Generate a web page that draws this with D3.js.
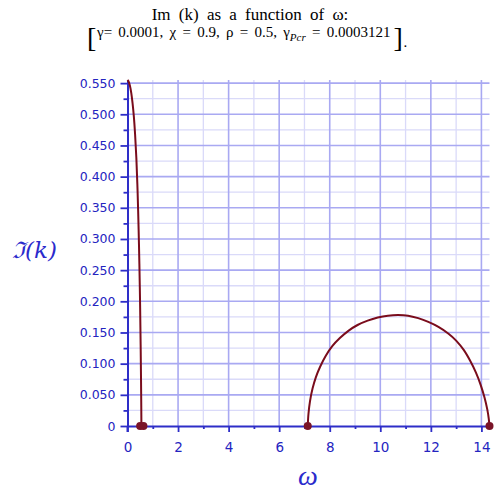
<!DOCTYPE html>
<html><head><meta charset="utf-8">
<script src="https://cdn.jsdelivr.net/npm/d3@7"></script>
<style>body{margin:0;background:#fff}svg{display:block}</style>
</head><body>
<svg id="c" width="500" height="500"></svg>
<script>
// ---- data ----
const branch1Omega = [0, 0.05, 0.10, 0.15, 0.20, 0.25, 0.30, 0.35, 0.40, 0.44, 0.47, 0.50, 0.52, 0.535, 0.545, 0.55];
const branch1Im    = [0.555, 0.552, 0.545, 0.534, 0.518, 0.497, 0.468, 0.43, 0.375, 0.315, 0.26, 0.19, 0.13, 0.075, 0.03, 0];
const branch2Omega = [7.13, 7.16, 7.22, 7.32, 7.45, 7.62, 7.85, 8.1, 8.4, 8.75, 9.1, 9.5, 9.9, 10.3, 10.7, 11.1, 11.5, 11.9, 12.3, 12.7, 13.0, 13.3, 13.55, 13.78, 13.97, 14.12, 14.23, 14.29, 14.32];
const branch2Im    = [0, 0.02, 0.04, 0.06, 0.078, 0.095, 0.113, 0.128, 0.141, 0.153, 0.162, 0.169, 0.174, 0.177, 0.178, 0.177, 0.173, 0.167, 0.159, 0.148, 0.137, 0.122, 0.105, 0.086, 0.066, 0.046, 0.027, 0.012, 0];
const pointOmega = [0.50, 0.63, 7.13, 14.32];
const pointIm    = [0, 0, 0, 0];
const xTickValues = [0, 2, 4, 6, 8, 10, 12, 14];
const xMinorValues = [1, 3, 5, 7, 9, 11, 13];
const yTickValues = [0, 0.05, 0.1, 0.15, 0.2, 0.25, 0.3, 0.35, 0.4, 0.45, 0.5, 0.55];
const yTickLabels = ["0", "0.050", "0.100", "0.150", "0.200", "0.250", "0.300", "0.350", "0.400", "0.450", "0.500", "0.550"];
const yMinorValues = [0.025, 0.075, 0.125, 0.175, 0.225, 0.275, 0.325, 0.375, 0.425, 0.475, 0.525];

const svg = d3.select("#c");
const x = d3.scaleLinear().domain([0, 14.32]).range([127.5, 489.5]);
const y = d3.scaleLinear().domain([0, 0.555]).range([426, 80]);
const axisColor = "#2e2ec8";

// grid
const grid = svg.append("g");
grid.selectAll(".vminor").data(xMinorValues).join("line")
  .attr("x1", d => x(d)).attr("x2", d => x(d)).attr("y1", y(0)).attr("y2", y(0.555))
  .attr("stroke", "#dadaf9").attr("stroke-width", 1.3);
grid.selectAll(".hminor").data(yMinorValues).join("line")
  .attr("y1", d => y(d)).attr("y2", d => y(d)).attr("x1", x(0)).attr("x2", x(14.32))
  .attr("stroke", "#dadaf9").attr("stroke-width", 1.3);
grid.selectAll(".vmajor").data(xTickValues.filter(d => d > 0)).join("line")
  .attr("x1", d => x(d)).attr("x2", d => x(d)).attr("y1", y(0)).attr("y2", y(0.555))
  .attr("stroke", "#a9a9f2").attr("stroke-width", 1.6);
grid.selectAll(".hmajor").data(yTickValues.filter(d => d > 0)).join("line")
  .attr("y1", d => y(d)).attr("y2", d => y(d)).attr("x1", x(0)).attr("x2", x(14.32))
  .attr("stroke", "#a9a9f2").attr("stroke-width", 1.6);

// axes
const xAxis = svg.append("g").attr("transform", `translate(0,${y(0)})`)
  .call(d3.axisBottom(x).tickValues(xTickValues).tickSize(6).tickSizeOuter(0).tickFormat(d3.format("d")));
const xMinor = svg.append("g").attr("transform", `translate(0,${y(0)})`)
  .call(d3.axisBottom(x).tickValues(xMinorValues).tickSize(3).tickSizeOuter(0).tickFormat(""));
const yAxis = svg.append("g").attr("transform", `translate(${x(0)},0)`)
  .call(d3.axisLeft(y).tickValues(yTickValues).tickSize(7).tickSizeOuter(0).tickFormat((d, i) => yTickLabels[i]));
const yMinor = svg.append("g").attr("transform", `translate(${x(0)},0)`)
  .call(d3.axisLeft(y).tickValues(yMinorValues).tickSize(4).tickSizeOuter(0).tickFormat(""));
[xAxis, xMinor, yAxis, yMinor].forEach(g => {
  g.selectAll("path.domain").attr("stroke", axisColor).attr("stroke-width", 2);
  g.selectAll(".tick line").attr("stroke", axisColor).attr("stroke-width", 1.8);
});
xMinor.select("path.domain").remove();
yMinor.select("path.domain").remove();
xAxis.selectAll(".tick text").attr("fill", "#2424c0").attr("font-family", "DejaVu Sans")
  .attr("font-size", 13.5).attr("y", 25.5).attr("dy", 0);
yAxis.selectAll(".tick text").attr("fill", "#2424c0").attr("font-family", "DejaVu Sans")
  .attr("font-size", 12.5).attr("x", -12);
// y axis extends a bit below zero
svg.append("line").attr("x1", x(0)).attr("x2", x(0)).attr("y1", y(0)).attr("y2", y(0) + 6)
  .attr("stroke", axisColor).attr("stroke-width", 2);

// curves
const line = d3.line().x(d => x(d[0])).y(d => y(d[1])).curve(d3.curveCatmullRom.alpha(0.5));
const curveColor = "#7a0c1c";
svg.append("path").datum(branch1Omega.map((w, i) => [w, branch1Im[i]]))
  .attr("d", line).attr("fill", "none").attr("stroke", curveColor).attr("stroke-width", 2);
svg.append("path").datum(branch2Omega.map((w, i) => [w, branch2Im[i]]))
  .attr("d", line).attr("fill", "none").attr("stroke", curveColor).attr("stroke-width", 2);
svg.selectAll(".pt").data(pointOmega.map((w, i) => [w, pointIm[i]])).join("circle")
  .attr("cx", d => x(d[0])).attr("cy", d => y(d[1])).attr("r", 4).attr("fill", "#7a1428");

// axis titles
svg.append("text").attr("x", 12).attr("y", 258).attr("fill", "#2a2acc")
  .attr("font-family", "DejaVu Serif").attr("font-style", "italic").attr("font-size", 23)
  .text("ℑ(k)");
svg.append("text").attr("x", 308).attr("y", 485).attr("text-anchor", "middle").attr("fill", "#2a2acc")
  .attr("font-family", "Liberation Serif").attr("font-style", "italic").attr("font-size", 28)
  .text("ω");

// title
svg.append("text").attr("x", 250).attr("y", 20).attr("text-anchor", "middle")
  .attr("font-family", "Liberation Serif").attr("font-size", 17).attr("word-spacing", 4).attr("fill", "#000")
  .text("Im (k) as a function of ω:");
const t2 = svg.append("text").attr("x", 97).attr("y", 37).attr("word-spacing", 2.5)
  .attr("font-family", "Liberation Serif").attr("font-size", 15).attr("fill", "#000");
t2.append("tspan").text("γ= 0.0001, χ = 0.9, ρ = 0.5, γ");
t2.append("tspan").attr("font-style", "italic").attr("font-size", 11).attr("dy", 4).text("Pcr");
t2.append("tspan").attr("dy", -4).text(" = 0.0003121");
const endX = 97 + t2.node().getBBox().width;
svg.append("text").attr("x", 87).attr("y", 47)
  .attr("font-family", "Liberation Serif").attr("font-size", 28).attr("font-weight", 300).text("[");
svg.append("text").attr("x", endX + 2).attr("y", 47)
  .attr("font-family", "Liberation Serif").attr("font-size", 28).attr("font-weight", 300).text("]");
svg.append("text").attr("x", endX + 12).attr("y", 47)
  .attr("font-family", "Liberation Serif").attr("font-size", 15).text(".");
</script>
</body></html>
